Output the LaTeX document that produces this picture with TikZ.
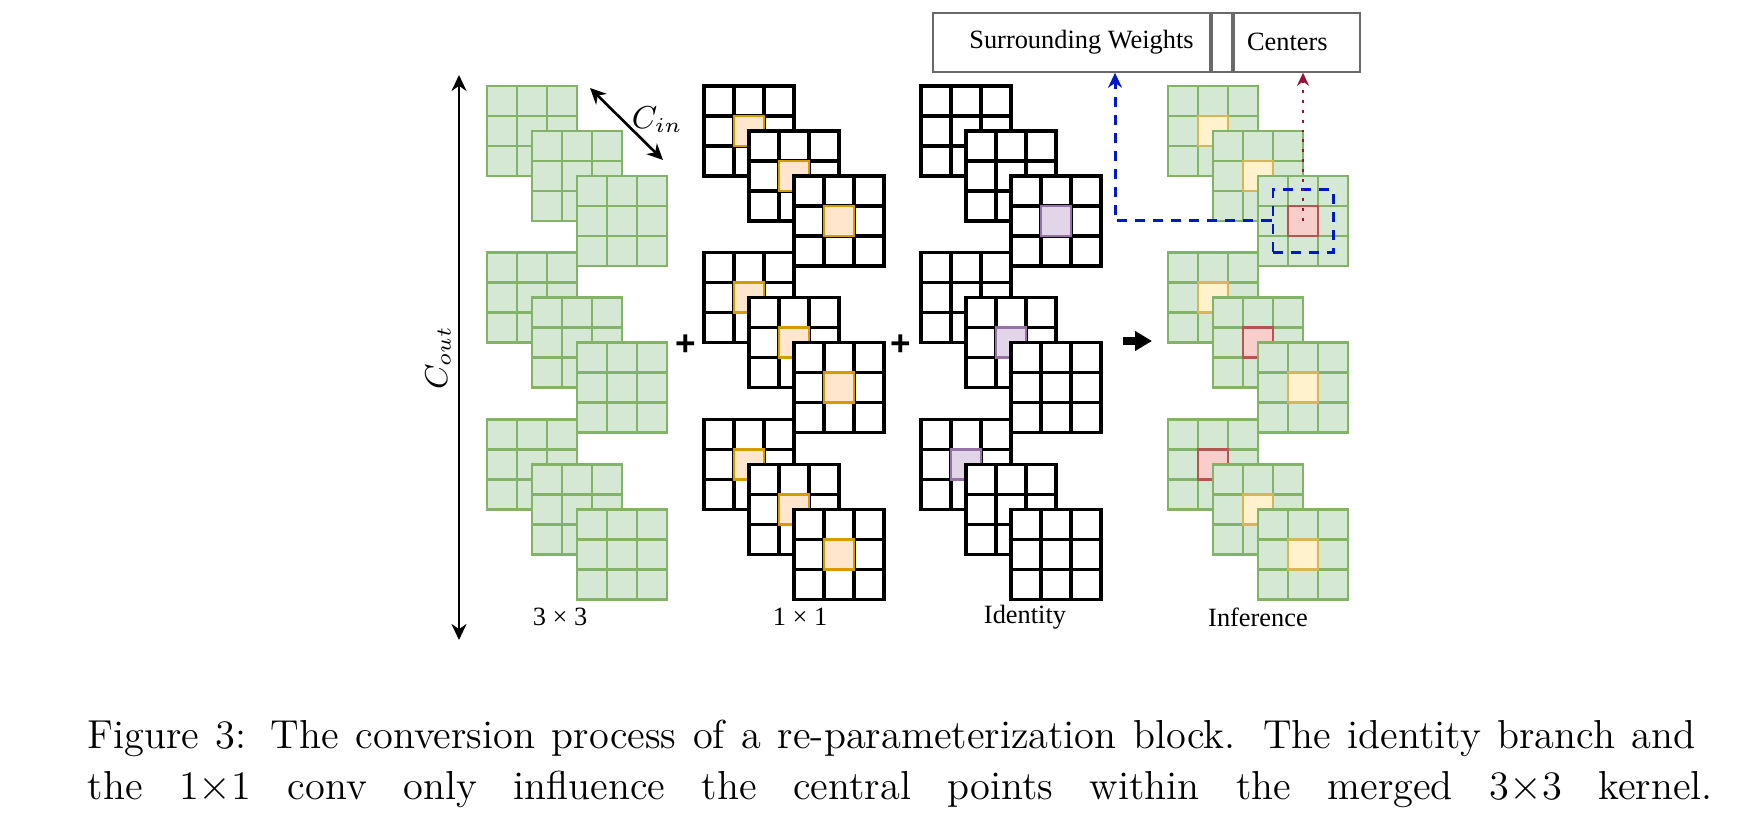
\documentclass[tikz,border=0pt]{standalone}
\usepackage{fontspec}
\usepackage{tikz}
\usetikzlibrary{arrows.meta,positioning,calc}
\newfontfamily\figfont{Liberation Serif}
\newfontfamily\plusfont{Liberation Sans}
\definecolor{kgreen}{HTML}{82B366}
\definecolor{kgreenfill}{HTML}{D5E8D4}
\definecolor{korange}{HTML}{D79B00}
\definecolor{korangefill}{HTML}{FFE6CC}
\definecolor{kpurple}{HTML}{9673A6}
\definecolor{kpurplefill}{HTML}{E1D5E7}
\definecolor{kyellow}{HTML}{D6B656}
\definecolor{kyellowfill}{HTML}{FFF2CC}
\definecolor{kred}{HTML}{B85450}
\definecolor{kredfill}{HTML}{F8CECC}
\definecolor{boxgray}{RGB}{105,105,105}
\definecolor{linkblue}{RGB}{0,24,200}
\definecolor{linkred}{RGB}{150,20,60}

% one 3x3 kernel: top-left x, top-left y, cell style, centre style
\newcommand{\kernel}[4]{%
  \foreach \i in {0,1,2}{
    \foreach \j in {0,1,2}{
      \draw[#3] ({#1+30*\i},{#2+30*\j}) rectangle ++(30,30);
    }
  }
  \draw[#4] ({#1+30},{#2+30}) rectangle ++(30,30);
}

\begin{document}
\begin{tikzpicture}[x=0.01cm, y=-0.01cm,
    greencell/.style={draw=kgreen, fill=kgreenfill, line width=0.8pt},
    blackcell/.style={draw=black, fill=white, line width=0.9pt},
    orangecell/.style={draw=korange, fill=korangefill, line width=0.8pt},
    purplecell/.style={draw=kpurple, fill=kpurplefill, line width=0.8pt},
    yellowcell/.style={draw=kyellow, fill=kyellowfill, line width=0.8pt},
    redcell/.style={draw=kred, fill=kredfill, line width=0.8pt},
    figlabel/.style={font=\figfont\fontsize{7.5}{9}\selectfont},
    labelbox/.style={draw=boxgray, line width=0.6pt, minimum height=0.59cm, inner sep=0pt, figlabel},
    dimarrow/.style={{Stealth[length=0.16cm,width=0.15cm]}-{Stealth[length=0.16cm,width=0.15cm]}, line width=0.75pt},
    focusbox/.style={draw=linkblue, dash pattern=on 0.1cm off 0.08cm, line width=0.85pt, minimum width=0.6cm, minimum height=0.62cm, inner sep=0pt},
    bluelink/.style={linkblue, dash pattern=on 0.1cm off 0.08cm, line width=0.85pt, -{Stealth[length=0.15cm,width=0.14cm]}},
    redlink/.style={linkred, dotted, line width=0.8pt, -{Stealth[length=0.13cm,width=0.12cm]}},
    caption/.style={anchor=west, inner sep=0pt, font=\fontsize{11.5}{14}\selectfont}
]
    \useasboundingbox (0,0) rectangle (1754,828);

    % 3x3 branch
    \foreach \g in {0,1,2}
        \foreach \s in {0,1,2} {
            \kernel{487+45*\s}{86+166.7*\g+45*\s}{greencell}{greencell}
        }

    % 1x1 branch
    \foreach \g in {0,1,2}
        \foreach \s in {0,1,2} {
            \kernel{704+45*\s}{86+166.7*\g+45*\s}{blackcell}{orangecell}
        }

    % identity branch: only the diagonal kernels get a centre
    \foreach \g in {0,1,2}
        \foreach \s in {0,1,2} {
            \ifnum\numexpr\g+\s\relax=2
                \kernel{921+45*\s}{86+166.7*\g+45*\s}{blackcell}{purplecell}
            \else
                \kernel{921+45*\s}{86+166.7*\g+45*\s}{blackcell}{blackcell}
            \fi
        }

    % merged kernels for inference
    \foreach \g in {0,1,2}
        \foreach \s in {0,1,2} {
            \ifnum\numexpr\g+\s\relax=2
                \kernel{1168+45*\s}{86+166.7*\g+45*\s}{greencell}{redcell}
            \else
                \kernel{1168+45*\s}{86+166.7*\g+45*\s}{greencell}{yellowcell}
            \fi
        }

    % channel arrows
    \coordinate (couttop) at (459,75);
    \coordinate (coutbot) at (459,640);
    \draw[dimarrow] (coutbot) -- (couttop)
        node[midway, anchor=south, rotate=90, inner sep=2pt, font=\fontsize{9}{9}\selectfont] (coutlabel) {$C_{out}$};
    \coordinate (cintop) at (590,88);
    \coordinate (cinbot) at (663,160);
    \draw[dimarrow] (cintop) -- (cinbot)
        node[pos=0.44, anchor=west, inner sep=1pt, xshift=0.05cm, font=\fontsize{9}{9}\selectfont] (cinlabel) {$C_{in}$};

    % plus signs and conversion arrow
    \node[font=\plusfont\bfseries\fontsize{10}{10}\selectfont, inner sep=0pt] (plusA) at (686,345) {+};
    \node[font=\plusfont\bfseries\fontsize{10}{10}\selectfont, inner sep=0pt] (plusB) at (901,345) {+};
    \coordinate (convA) at (1123,341);
    \coordinate (convB) at (1152,341);
    \draw[line width=2.5pt, -{Triangle[length=0.17cm,width=0.19cm]}] (convA) -- (convB);

    % branch names
    \node[figlabel] (lab3x3) at (560,617) {3 × 3};
    \node[figlabel] (lab1x1) at (800,617) {1 × 1};
    \node[figlabel] (labid) at (1025,617) {Identity};
    \node[figlabel] (labinf) at (1258,617) {Inference};

    % weight split boxes
    \node[labelbox, minimum width=2.77cm] (surround) at (1071.5,42.2) {\hspace*{0.2cm}Surrounding Weights};
    \node[labelbox, minimum width=0.2cm, right=0pt of surround] (gapbox) {};
    \node[labelbox, minimum width=1.26cm, right=0pt of gapbox] (centers) {Centers\hspace*{0.2cm}};

    % links from the merged kernel
    \coordinate (redc) at (1303,221);
    \node[focusbox] (focus) at (redc) {};
    \draw[bluelink] (focus.west) -| ([xshift=0.435cm]surround.south);
    \draw[redlink] (redc) -- (redc |- centers.south);

    % caption
    \node[caption] (capA) at (87,738) {\makebox[16.07cm][s]{Figure 3: The conversion process of a re-parameterization block. The identity branch and}};
    \node[caption] (capB) at (87,789) {\makebox[16.24cm][s]{the 1$\times$1 conv only influence the central points within the merged 3$\times$3 kernel.}};
\end{tikzpicture}
\end{document}
